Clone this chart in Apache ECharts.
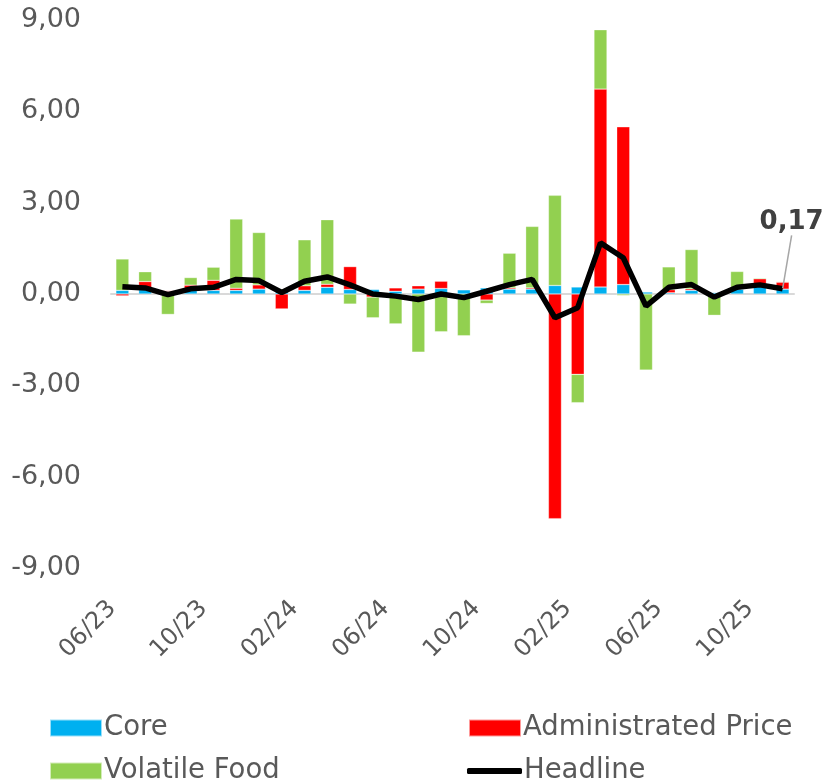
<!DOCTYPE html>
<html>
<head>
<meta charset="utf-8">
<script src="https://cdn.jsdelivr.net/npm/echarts@6/dist/echarts.min.js"></script>
<style>
  html, body { margin: 0; padding: 0; background: #fff; }
  #main { width: 828px; height: 781px; }
</style>
</head>
<body>
<div id="main"></div>
<script>
// months 06/23 .. 11/25
const months = [
  '06/23', '07/23', '08/23', '09/23', '10/23', '11/23', '12/23',
  '01/24', '02/24', '03/24', '04/24', '05/24', '06/24', '07/24', '08/24', '09/24', '10/24', '11/24', '12/24',
  '01/25', '02/25', '03/25', '04/25', '05/25', '06/25', '07/25', '08/25', '09/25', '10/25', '11/25'
];

// contributions (pp)
const core = [
  0.12, 0.14, 0.08, 0.13, 0.12, 0.12, 0.16,
  0.10, 0.12, 0.22, 0.15, 0.15, 0.09, 0.16, 0.18, 0.14, 0.20, 0.16, 0.16,
  0.28, 0.23, 0.23, 0.31, 0.07, 0.04, 0.12, 0.05, 0.16, 0.33, 0.16
];
const administrated = [
  -0.06, 0.27, 0.03, 0.16, 0.33, 0.07, 0.14,
  -0.49, 0.15, 0.10, 0.75, -0.10, 0.11, 0.11, 0.24, 0.00, -0.20, 0.04, 0.04,
  -7.38, -2.64, 6.50, 5.18, 0.00, 0.10, 0.05, 0.00, 0.00, 0.17, 0.23
];
const volatileFood = [
  1.03, 0.32, -0.67, 0.25, 0.43, 2.27, 1.72,
  0.05, 1.51, 2.12, -0.33, -0.68, -0.98, -1.91, -1.24, -1.37, -0.11, 1.14, 2.02,
  2.96, -0.93, 1.95, -0.05, -2.50, 0.75, 1.29, -0.70, 0.58, 0.03, 0.02
];
const headline = [
  0.24, 0.20, -0.02, 0.17, 0.22, 0.48, 0.44,
  0.05, 0.42, 0.56, 0.30, 0.00, -0.07, -0.18, 0.00, -0.12, 0.09, 0.31, 0.48,
  -0.78, -0.45, 1.68, 1.19, -0.40, 0.22, 0.31, -0.10, 0.22, 0.30, 0.17
];

const fmt = v => v.toFixed(2).replace('.', ',');
const txt = '#595959';
const font = 'DejaVu Sans';
const lastIdx = headline.length - 1;

const chart = echarts.init(document.getElementById('main'));

const barBase = {
  type: 'bar',
  stack: 'c',
  barWidth: 13,
  itemStyle: { borderColor: 'rgba(255,255,255,0.6)', borderWidth: 0.5 }
};

// one legend per item so each sits in its own column
const legendPos = [
  { name: 'Core', left: 44, top: 709, icon: 'rect', h: 17 },
  { name: 'Administrated Price', left: 463, top: 709, icon: 'rect', h: 17 },
  { name: 'Volatile Food', left: 44, top: 752, icon: 'rect', h: 17 },
  { name: 'Headline', left: 462, top: 752, icon: 'roundRect', h: 6 }
];

const option = {
  animation: false,
  textStyle: { fontFamily: font },
  grid: { left: 111, right: 34, top: 20, bottom: 213 },
  legend: legendPos.map(p => ({
    data: [{ name: p.name, icon: p.icon }],
    left: p.left,
    top: p.top,
    itemWidth: p.name === 'Headline' ? 55 : 52,
    itemHeight: p.h,
    itemGap: 0,
    textStyle: { color: txt, fontSize: 27.5, fontFamily: font, padding: [0, 0, 0, -3] }
  })),
  xAxis: {
    type: 'category',
    data: months,
    axisLine: { onZero: true, lineStyle: { color: '#D9D9D9', width: 2 } },
    axisTick: { show: false },
    axisLabel: {
      interval: 3,
      rotate: 45,
      color: txt,
      fontSize: 24,
      fontFamily: font,
      margin: 27,
      padding: [0, 14, 0, 0]
    }
  },
  yAxis: {
    type: 'value',
    min: -9,
    max: 9,
    interval: 3,
    splitLine: { show: false },
    axisLine: { show: false },
    axisLabel: { color: txt, fontSize: 27, fontFamily: font, margin: 30, formatter: fmt }
  },
  series: [
    Object.assign({}, barBase, { name: 'Core', data: core, itemStyle: Object.assign({}, barBase.itemStyle, { color: '#00B0F0' }) }),
    Object.assign({}, barBase, { name: 'Administrated Price', data: administrated, itemStyle: Object.assign({}, barBase.itemStyle, { color: '#FF0000' }) }),
    Object.assign({}, barBase, { name: 'Volatile Food', data: volatileFood, itemStyle: Object.assign({}, barBase.itemStyle, { color: '#92D050' }) }),
    {
      name: 'Headline',
      type: 'line',
      symbol: 'circle',
      symbolSize: 0,
      showSymbol: true,
      lineStyle: { color: '#000', width: 5.5 },
      itemStyle: { color: '#000' },
      z: 5,
      labelLine: { show: true, lineStyle: { color: '#A6A6A6', width: 1.5 } },
      labelLayout: p => p.dataIndex === lastIdx ? { dx: 9, dy: -48 } : {},
      data: headline.map((v, i) => i === lastIdx ? {
        value: v,
        symbolSize: 1,
        label: {
          show: true,
          position: 'top',
          formatter: p => fmt(p.value),
          color: '#404040',
          fontWeight: 'bold',
          fontSize: 26,
          fontFamily: font
        }
      } : v)
    }
  ]
};

chart.setOption(option);
window.addEventListener('resize', () => chart.resize());
</script>
</body>
</html>
